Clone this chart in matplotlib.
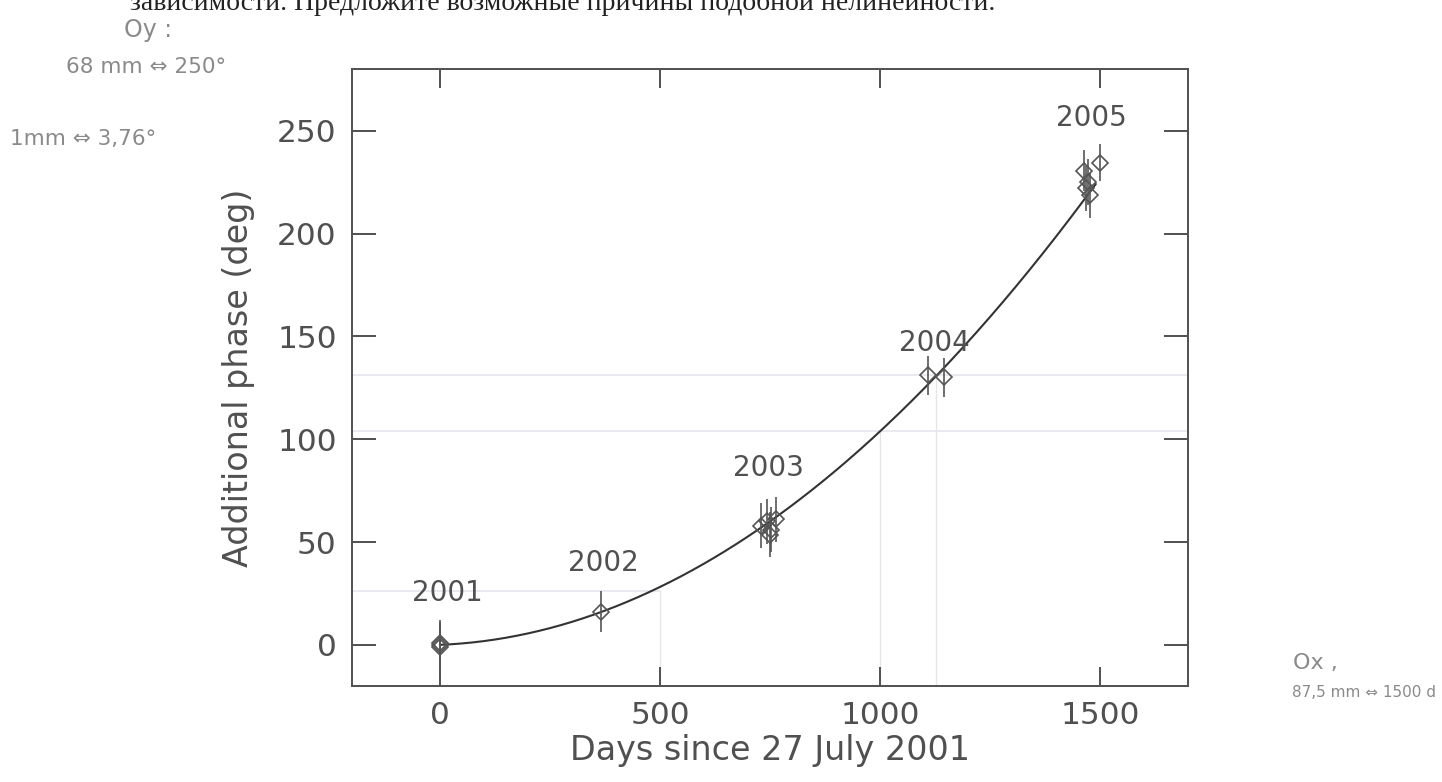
import numpy as np
import matplotlib
matplotlib.use("Agg")
import matplotlib.pyplot as plt

# data
days = [0, 0, 0, 365, 730, 744, 749, 752, 764, 1108, 1145, 1464, 1467, 1472, 1478, 1501]
phase = [-1, 0, 1, 16, 58, 60, 53.5, 56, 61, 131, 130, 230.5, 222, 225, 218.5, 234.5]
phase_err = [11, 11, 11, 10, 11, 11, 11, 11, 11, 9.5, 9.5, 10, 11, 11, 11, 9]

# fitted curve y = a*x^2 + b*x + c as drawn
fit_coef = [9.5e-5, 0.0088, 0.0]
fit_range = [0, 1490]

year_labels = ["2001", "2002", "2003", "2004", "2005"]
year_x = [16, 372, 746, 1123, 1480]
year_y = [25, 40, 86, 147, 256]

xticks = [0, 500, 1000, 1500]
yticks = [0, 50, 100, 150, 200, 250]

# faint pencil lines somebody drew on the printout
pencil_h = [(131, -200, 1700), (104, -200, 1700), (26, -200, 500)]
pencil_v = [(500, -20, 26), (1000, -20, 104), (1128, -20, 131)]

ink = "#505050"
plt.rcParams['font.family'] = ['DejaVu Sans']

fig = plt.figure(figsize=(14.42, 7.82), dpi=100)
ax = fig.add_axes([0.2441, 0.1228, 0.5798, 0.789])

for y, x0, x1 in pencil_h:
    ax.plot([x0, x1], [y, y], color="#e4e6ec", lw=1.2, zorder=0)
for x, y0, y1 in pencil_v:
    ax.plot([x, x], [y0, y1], color="#e6e6e6", lw=1.0, zorder=0)

xx = np.linspace(fit_range[0], fit_range[1], 300)
ax.plot(xx, np.polyval(fit_coef, xx), color="#333333", lw=1.5, zorder=2)

ax.errorbar(days, phase, yerr=phase_err, fmt="none", ecolor="#555555",
            elinewidth=1.2, capsize=0, zorder=3)
ax.plot(days, phase, ls="none", marker="D", ms=8.5, mfc="none",
        mec="#555555", mew=1.2, zorder=4)

for lab, x, y in zip(year_labels, year_x, year_y):
    ax.text(x, y, lab, ha="center", va="center", fontsize=20, color=ink)

ax.set_xlim(-200, 1700)
ax.set_ylim(-20, 280)
ax.set_xticks(xticks)
ax.set_yticks(yticks)
ax.tick_params(direction="in", width=1.4, color=ink,
               top=True, right=True, labelsize=22.5, labelcolor=ink)
ax.tick_params(axis="x", length=14, pad=11)
ax.tick_params(axis="y", length=17, pad=11)
for s in ax.spines.values():
    s.set_linewidth(1.4)
    s.set_color(ink)

ax.set_xlabel("Days since 27 July 2001", fontsize=24, color=ink, labelpad=3)
ax.set_ylabel("Additional phase (deg)", fontsize=24, color=ink, labelpad=16)

# scan residue: cut-off line of the worksheet and handwritten notes
fig.text(0.09, 0.996, "зависимости. Предложите возможные причины подобной нелинейности.",
         family="Liberation Serif", fontsize=20, color="#222222",
         ha="left", va="center")
note = dict(color="#8a8a8a", fontsize=15.5, ha="left", va="center")
fig.text(0.086, 0.962, "Oy :", **{**note, "fontsize": 17})
fig.text(0.046, 0.914, "68 mm ⇔ 250°", **note)
fig.text(0.007, 0.822, "1mm ⇔ 3,76°", **note)
fig.text(0.897, 0.152, "Ox ,", **{**note, "fontsize": 16})
fig.text(0.896, 0.115, "87,5 mm ⇔ 1500 d", **{**note, "fontsize": 11})

fig.savefig("out.png", dpi=100)
